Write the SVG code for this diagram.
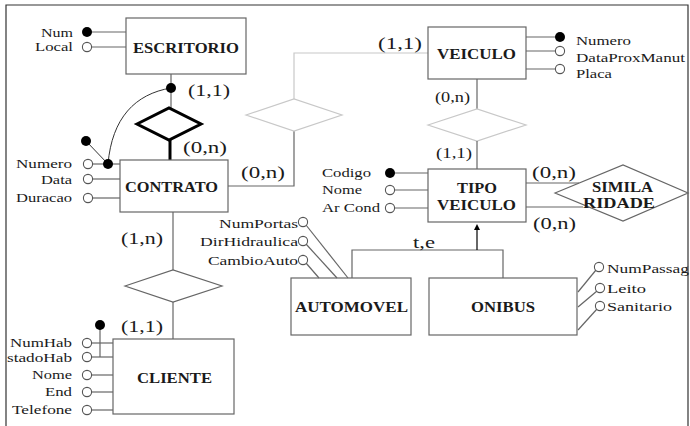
<svg xmlns="http://www.w3.org/2000/svg" width="690" height="426" viewBox="0 0 690 426">
<defs>
<style>
.t{font-family:"Liberation Serif","Times New Roman",serif;font-size:13.5px;fill:#1a1a1a}
.c{font-family:"Liberation Serif","Times New Roman",serif;font-size:17px;fill:#1a1a1a}
.cs{font-family:"Liberation Serif","Times New Roman",serif;font-size:15px;fill:#1a1a1a}
.b{font-family:"Liberation Serif","Times New Roman",serif;font-size:14px;font-weight:bold;fill:#1a1a1a}
.box{fill:#fff;stroke:#666;stroke-width:1.2}
.ln{fill:none;stroke:#666;stroke-width:1.2}
.lg{fill:none;stroke:#c8c8c8;stroke-width:1.2}
.bold{fill:none;stroke:#000;stroke-width:3}
.k{fill:#000}
.o{fill:#fff;stroke:#555;stroke-width:1.1}
</style>
<marker id="ah" markerWidth="6" markerHeight="6" refX="3" refY="3" orient="auto" markerUnits="userSpaceOnUse">
<path d="M0,0 L6,3 L0,6 z" fill="#000"/>
</marker>
</defs>
<rect x="0" y="0" width="690" height="426" fill="#fff"/>
<path d="M6,426 V5 H688 V426" fill="none" stroke="#333" stroke-width="1.2"/>

<g id="connectors">
<line class="ln" x1="171" y1="74" x2="171" y2="108"/>
<path class="bold" d="M137,124 L169,108 L201,124 L169,140 Z"/>
<line class="bold" x1="170" y1="140" x2="170" y2="160"/>
<path d="M171,88 C135,94 112,118 108,164" fill="none" stroke="#333" stroke-width="1"/>
<line stroke="#333" stroke-width="1" x1="86" y1="141" x2="108" y2="164"/>
<polyline class="ln" points="228,186 294,186 294,131"/>
<path class="lg" d="M246,115 L294,99 L342,115 L294,131 Z"/>
<polyline class="lg" points="294,99 294,53 428,53"/>
<line class="ln" x1="477" y1="79" x2="477" y2="109"/>
<path class="lg" d="M428,125 L477,109 L526,125 L477,141 Z"/>
<line class="ln" x1="477" y1="141" x2="477" y2="169"/>
<line class="ln" x1="526" y1="183" x2="579" y2="183"/>
<line class="ln" x1="526" y1="207" x2="583" y2="207"/>
<line class="ln" x1="173" y1="212" x2="173" y2="270"/>
<path class="ln" d="M125,286 L173,270 L222,286 L173,302 Z"/>
<line class="ln" x1="173" y1="302" x2="173" y2="339"/>
<polyline class="ln" points="352,278 352,250 503,250 503,278"/>
<line stroke="#000" stroke-width="1.2" x1="477" y1="250" x2="477" y2="227" marker-end="url(#ah)"/>
</g>

<g id="escritorio">
<rect class="box" x="126" y="18" width="120" height="56"/>
<text class="b" x="133" y="53" textLength="106" lengthAdjust="spacingAndGlyphs">ESCRITORIO</text>
<line class="ln" x1="87" y1="32" x2="126" y2="32"/>
<line class="ln" x1="87" y1="47" x2="126" y2="47"/>
<circle class="k" cx="87" cy="32" r="5"/>
<circle class="o" cx="87" cy="47" r="4.6"/>
<text class="t" x="41" y="37" textLength="32" lengthAdjust="spacingAndGlyphs">Num</text>
<text class="t" x="35" y="51" textLength="38" lengthAdjust="spacingAndGlyphs">Local</text>
<circle class="k" cx="171" cy="88" r="5"/>
<text class="c" x="188" y="96" textLength="42" lengthAdjust="spacingAndGlyphs">(1,1)</text>
<text class="c" x="183" y="153" textLength="44" lengthAdjust="spacingAndGlyphs">(0,n)</text>
</g>

<g id="contrato">
<rect class="box" x="120" y="160" width="108" height="52"/>
<text class="b" x="125" y="192" textLength="93" lengthAdjust="spacingAndGlyphs">CONTRATO</text>
<line class="ln" x1="88" y1="164" x2="120" y2="164"/>
<line class="ln" x1="88" y1="179" x2="120" y2="179"/>
<line class="ln" x1="88" y1="198" x2="120" y2="198"/>
<circle class="o" cx="88" cy="164" r="4.6"/>
<circle class="o" cx="88" cy="179" r="4.6"/>
<circle class="o" cx="88" cy="198" r="4.6"/>
<circle class="k" cx="108" cy="164" r="5"/>
<circle class="k" cx="86" cy="141" r="5"/>
<text class="t" x="16" y="168" textLength="56" lengthAdjust="spacingAndGlyphs">Numero</text>
<text class="t" x="41" y="184" textLength="31" lengthAdjust="spacingAndGlyphs">Data</text>
<text class="t" x="16" y="202" textLength="56" lengthAdjust="spacingAndGlyphs">Duracao</text>
<text class="c" x="241" y="178" textLength="44" lengthAdjust="spacingAndGlyphs">(0,n)</text>
<text class="c" x="121" y="244" textLength="42" lengthAdjust="spacingAndGlyphs">(1,n)</text>
</g>

<g id="veiculo">
<rect class="box" x="428" y="27" width="98" height="52"/>
<text class="b" x="437" y="59" textLength="79" lengthAdjust="spacingAndGlyphs">VEICULO</text>
<line class="ln" x1="526" y1="37" x2="560" y2="37"/>
<line class="ln" x1="526" y1="51" x2="560" y2="51"/>
<line class="ln" x1="526" y1="69" x2="560" y2="69"/>
<circle class="k" cx="560" cy="37" r="5"/>
<circle class="o" cx="560" cy="51" r="4.6"/>
<circle class="o" cx="560" cy="69" r="4.6"/>
<text class="t" x="576" y="45" textLength="55" lengthAdjust="spacingAndGlyphs">Numero</text>
<text class="t" x="576" y="62" textLength="109" lengthAdjust="spacingAndGlyphs">DataProxManut</text>
<text class="t" x="576" y="78" textLength="36" lengthAdjust="spacingAndGlyphs">Placa</text>
<text class="c" x="378" y="49" textLength="44" lengthAdjust="spacingAndGlyphs">(1,1)</text>
<text class="cs" x="435" y="102" textLength="35" lengthAdjust="spacingAndGlyphs">(0,n)</text>
</g>

<g id="tipo-veiculo">
<rect class="box" x="428" y="169" width="98" height="53"/>
<text class="b" x="457" y="193" textLength="40" lengthAdjust="spacingAndGlyphs">TIPO</text>
<text class="b" x="437" y="210" textLength="79" lengthAdjust="spacingAndGlyphs">VEICULO</text>
<line class="ln" x1="390" y1="173" x2="428" y2="173"/>
<line class="ln" x1="390" y1="190" x2="428" y2="190"/>
<line class="ln" x1="390" y1="208" x2="428" y2="208"/>
<circle class="k" cx="390" cy="173" r="5"/>
<circle class="o" cx="390" cy="190" r="4.6"/>
<circle class="o" cx="390" cy="208" r="4.6"/>
<text class="t" x="322" y="177" textLength="49" lengthAdjust="spacingAndGlyphs">Codigo</text>
<text class="t" x="322" y="194" textLength="40" lengthAdjust="spacingAndGlyphs">Nome</text>
<text class="t" x="322" y="212" textLength="58" lengthAdjust="spacingAndGlyphs">Ar Cond</text>
<text class="cs" x="436" y="158" textLength="36" lengthAdjust="spacingAndGlyphs">(1,1)</text>
<text class="c" x="532" y="178" textLength="44" lengthAdjust="spacingAndGlyphs">(0,n)</text>
<text class="c" x="533" y="229" textLength="43" lengthAdjust="spacingAndGlyphs">(0,n)</text>
<text class="c" x="413" y="248" textLength="22" lengthAdjust="spacingAndGlyphs">t,e</text>
</g>

<g id="similaridade">
<path class="ln" d="M555,193 L623,165 L688,193 L623,221 Z"/>
<text class="b" x="592" y="192" textLength="61" lengthAdjust="spacingAndGlyphs">SIMILA</text>
<text class="b" x="583" y="208" textLength="72" lengthAdjust="spacingAndGlyphs">RIDADE</text>
</g>

<g id="automovel">
<rect class="box" x="291" y="278" width="120" height="57"/>
<text class="b" x="295" y="312" textLength="113" lengthAdjust="spacingAndGlyphs">AUTOMOVEL</text>
<line class="ln" x1="306" y1="225" x2="348" y2="278"/>
<line class="ln" x1="306" y1="244" x2="337" y2="278"/>
<line class="ln" x1="306" y1="263" x2="319" y2="278"/>
<circle class="o" cx="303" cy="222" r="4.6"/>
<circle class="o" cx="303" cy="241" r="4.6"/>
<circle class="o" cx="303" cy="260" r="4.6"/>
<text class="t" x="219" y="228" textLength="79" lengthAdjust="spacingAndGlyphs">NumPortas</text>
<text class="t" x="200" y="246" textLength="98" lengthAdjust="spacingAndGlyphs">DirHidraulica</text>
<text class="t" x="208" y="265" textLength="90" lengthAdjust="spacingAndGlyphs">CambioAuto</text>
</g>

<g id="onibus">
<rect class="box" x="429" y="278" width="148" height="57"/>
<text class="b" x="471" y="312" textLength="64" lengthAdjust="spacingAndGlyphs">ONIBUS</text>
<line class="ln" x1="596" y1="270" x2="578" y2="292"/>
<line class="ln" x1="597" y1="291" x2="578" y2="307"/>
<line class="ln" x1="597" y1="309" x2="578" y2="330"/>
<circle class="o" cx="599" cy="267" r="4.6"/>
<circle class="o" cx="600" cy="288" r="4.6"/>
<circle class="o" cx="600" cy="306" r="4.6"/>
<text class="t" x="607" y="273" textLength="82" lengthAdjust="spacingAndGlyphs">NumPassag</text>
<text class="t" x="607" y="293" textLength="39" lengthAdjust="spacingAndGlyphs">Leito</text>
<text class="t" x="607" y="311" textLength="65" lengthAdjust="spacingAndGlyphs">Sanitario</text>
</g>

<g id="cliente">
<rect class="box" x="113" y="339" width="121" height="75"/>
<text class="b" x="137" y="383" textLength="75" lengthAdjust="spacingAndGlyphs">CLIENTE</text>
<line class="ln" x1="87" y1="343" x2="113" y2="343"/>
<line class="ln" x1="87" y1="357" x2="113" y2="357"/>
<line class="ln" x1="87" y1="375" x2="113" y2="375"/>
<line class="ln" x1="87" y1="392" x2="113" y2="392"/>
<line class="ln" x1="87" y1="410" x2="113" y2="410"/>
<line class="ln" x1="100" y1="325" x2="100" y2="357"/>
<circle class="k" cx="100" cy="325" r="5"/>
<circle class="o" cx="87" cy="343" r="4.6"/>
<circle class="o" cx="87" cy="357" r="4.6"/>
<circle class="o" cx="87" cy="375" r="4.6"/>
<circle class="o" cx="87" cy="392" r="4.6"/>
<circle class="o" cx="87" cy="410" r="4.6"/>
<text class="t" x="10" y="347" textLength="62" lengthAdjust="spacingAndGlyphs">NumHab</text>
<text class="t" x="7" y="362" textLength="65" lengthAdjust="spacingAndGlyphs">stadoHab</text>
<text class="t" x="32" y="379" textLength="40" lengthAdjust="spacingAndGlyphs">Nome</text>
<text class="t" x="45" y="396" textLength="27" lengthAdjust="spacingAndGlyphs">End</text>
<text class="t" x="12" y="414" textLength="60" lengthAdjust="spacingAndGlyphs">Telefone</text>
<text class="c" x="121" y="332" textLength="42" lengthAdjust="spacingAndGlyphs">(1,1)</text>
</g>
</svg>
